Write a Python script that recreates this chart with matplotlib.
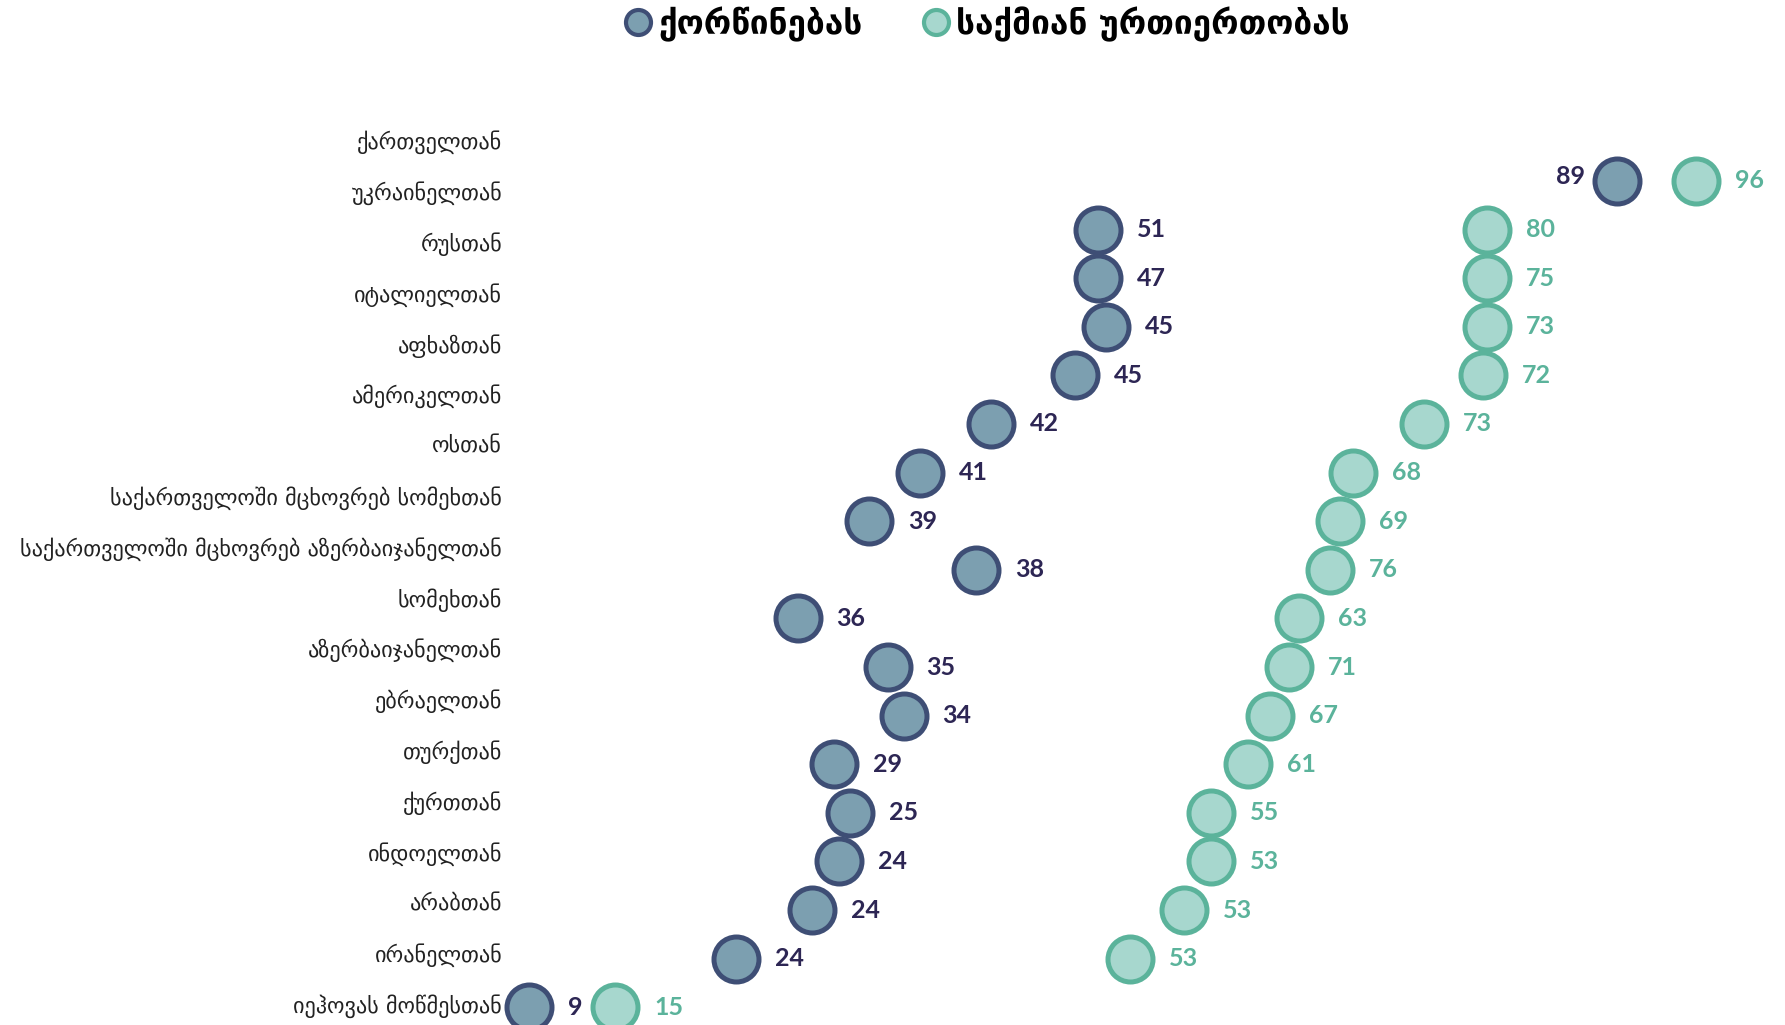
import matplotlib.pyplot as plt
import numpy as np
from matplotlib.lines import Line2D

# groups as listed on the left (top to bottom)
groups = ['ქართველთან', 'უკრაინელთან', 'რუსთან', 'იტალიელთან', 'აფხაზთან',
          'ამერიკელთან', 'ოსთან', 'საქართველოში მცხოვრებ სომეხთან',
          'საქართველოში მცხოვრებ აზერბაიჯანელთან', 'სომეხთან',
          'აზერბაიჯანელთან', 'ებრაელთან', 'თურქთან', 'ქურთთან', 'ინდოელთან',
          'არაბთან', 'ირანელთან', 'იეჰოვას მოწმესთან']

# shown values
marriage = [89, 51, 47, 45, 45, 42, 41, 39, 38, 36, 35, 34, 29, 25, 24, 24, 24, 9]
business = [96, 80, 75, 73, 72, 73, 68, 69, 76, 63, 71, 67, 61, 55, 53, 53, 53, 15]

# where the dots sit on the value scale (the original layout pushed colliding dots apart)
marriage_pos = [90.1, 51.4, 51.4, 52.0, 49.7, 43.4, 38.1, 34.3, 42.3, 29.0,
                35.7, 36.9, 31.7, 32.9, 32.1, 30.1, 24.4, 9.0]
business_pos = [96.0, 80.4, 80.4, 80.4, 80.1, 75.7, 70.4, 69.4, 68.7, 66.4,
                65.6, 64.2, 62.6, 59.8, 59.8, 57.8, 53.8, 15.4]

series_names = ['ქორწინებას', 'საქმიან ურთიერთობას']

dark_face, dark_edge, dark_txt = '#7c9fb0', '#3e4e75', '#2d2654'
light_face, light_edge, light_txt = '#a7d7ce', '#5bb39b', '#5bb39b'

plt.rcParams['font.family'] = ['DejaVu Sans']

W, H = 1785, 1025
fig = plt.figure(figsize=(W / 100, H / 100), dpi=100)
L = 505 / W
ax = fig.add_axes([L, 0, 1 - L, 1])
ax.set_xlim(7.18, 102.6)
ax.set_ylim(17.366, -3.724)
ax.axis('off')

rows = np.arange(len(groups))
ax.scatter(marriage_pos, rows, s=1050, facecolor=dark_face, edgecolor=dark_edge,
           linewidth=3.6, zorder=3, clip_on=False)
ax.scatter(business_pos, rows, s=1050, facecolor=light_face, edgecolor=light_edge,
           linewidth=3.6, zorder=3, clip_on=False)

for i in rows:
    if i == 0:
        ax.annotate(str(marriage[i]), (marriage_pos[i], i), xytext=(-23, 3),
                    textcoords='offset points', ha='right', va='center',
                    fontsize=18, fontweight='bold', color=dark_txt, family='Lato')
    else:
        ax.annotate(str(marriage[i]), (marriage_pos[i], i), xytext=(28, 0),
                    textcoords='offset points', ha='left', va='center',
                    fontsize=18, fontweight='bold', color=dark_txt, family='Lato')
    ax.annotate(str(business[i]), (business_pos[i], i), xytext=(28, 0),
                textcoords='offset points', ha='left', va='center',
                fontsize=18, fontweight='bold', color=light_txt, family='Lato')

# category labels run on their own vertical spacing
lab = ax.twinx()
lab.set_ylim(17.42, -2.756)
lab.set_yticks(rows)
lab.set_yticklabels(groups, fontsize=16, color='#222222')
lab.yaxis.tick_left()
lab.tick_params(axis='y', length=0, pad=2)
lab.set_xticks([])
for s in lab.spines.values():
    s.set_visible(False)
lab.patch.set_visible(False)
ax.set_zorder(lab.get_zorder() + 1)

handles = [Line2D([], [], marker='o', linestyle='none', markersize=18,
                  markerfacecolor=dark_face, markeredgecolor=dark_edge, markeredgewidth=3),
           Line2D([], [], marker='o', linestyle='none', markersize=18,
                  markerfacecolor=light_face, markeredgecolor=light_edge, markeredgewidth=3)]
fig.legend(handles, series_names, loc='center', bbox_to_anchor=(0.552, 0.9766),
           ncol=2, frameon=False, handlelength=1.0, handletextpad=0.1,
           columnspacing=1.7, borderpad=0, prop={'size': 24, 'weight': 'bold'})

fig.savefig('out.png', dpi=100)
